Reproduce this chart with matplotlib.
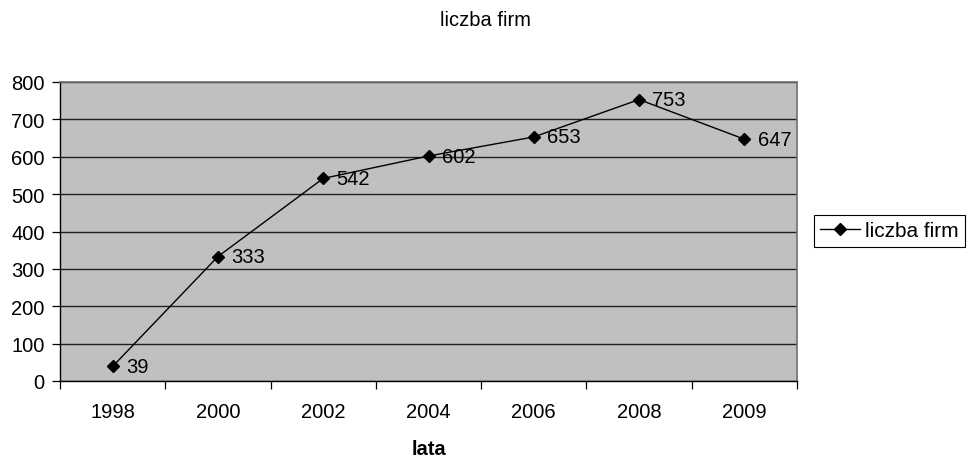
import matplotlib
matplotlib.use("Agg")
import matplotlib.pyplot as plt
import numpy as np

years = ["1998", "2000", "2002", "2004", "2006", "2008", "2009"]
firms = [39, 333, 542, 602, 653, 753, 647]
y_ticks = [0, 100, 200, 300, 400, 500, 600, 700, 800]

plt.rcParams['font.family'] = ['Liberation Sans', 'DejaVu Sans']
FS = 14.5

fig = plt.figure(figsize=(9.73, 4.6), dpi=100)
W, H = 973, 460
left, right, top, bottom = 60, 797, 83, 382
ax = fig.add_axes([left / W, 1 - bottom / H, (right - left) / W, (bottom - top) / H])
ax.set_facecolor('#C0C0C0')

x = np.arange(len(years))
ax.plot(x, firms, color='black', lw=1, marker='D', ms=6, label='liczba firm', zorder=3)
for xi, v in zip(x, firms):
    ax.annotate(str(v), (xi, v), xytext=(9.5, 0), textcoords='offset points',
                va='center', ha='left', fontsize=FS)

ax.set_xlim(-0.5, len(years) - 0.5)
ax.set_ylim(0, 800)
ax.set_yticks(y_ticks)
ax.set_yticklabels([str(t) for t in y_ticks], fontsize=FS)
ax.yaxis.grid(True, color='#202020', lw=1)
ax.set_axisbelow(True)

ax.set_xticks(x)
ax.set_xticklabels(years, fontsize=FS)
ax.tick_params(axis='x', length=0, pad=15)
ax.set_xticks(np.arange(-0.5, len(years), 1.0), minor=True)
ax.tick_params(axis='x', which='minor', length=6, width=0.9, direction='out')
ax.tick_params(axis='y', length=6, width=0.9, direction='out', pad=5)

for s in ['top', 'right']:
    ax.spines[s].set_color('#707070')
    ax.spines[s].set_linewidth(1.2)
for s in ['left', 'bottom']:
    ax.spines[s].set_color('black')
    ax.spines[s].set_linewidth(1)

ax.set_xlabel('lata', fontsize=FS, fontweight='bold', labelpad=13)
fig.text(0.499, 1 - 20 / H, 'liczba firm', ha='center', va='center', fontsize=FS)

leg = fig.legend(loc='center left', bbox_to_anchor=(814 / W, 1 - 232 / H), fontsize=15,
                 frameon=True, fancybox=False, edgecolor='black', framealpha=1,
                 handlelength=1.9, handletextpad=0.25, borderpad=0.3, borderaxespad=0)
leg.get_frame().set_linewidth(0.8)

fig.savefig('out.png', dpi=100)
